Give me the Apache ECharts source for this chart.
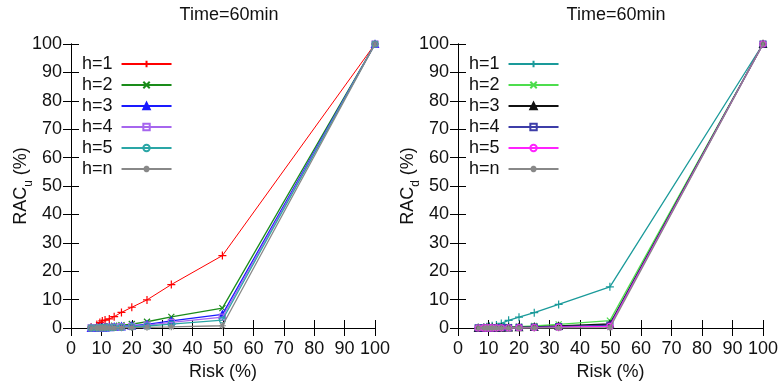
<!DOCTYPE html>
<html>
<head>
<meta charset="utf-8">
<script src="https://cdn.jsdelivr.net/npm/echarts@6/dist/echarts.min.js"></script>
<style>html,body{margin:0;padding:0;background:#fff}#c{width:782px;height:387px}</style>
</head>
<body>
<div id="c"></div>
<script>
// ---- data ----
var riskValues = [6.6, 8.5, 9.5, 10.3, 11.2, 12.6, 14.2, 16.6, 20, 25, 33, 49.8, 100];
var seriesNames = ['h=1', 'h=2', 'h=3', 'h=4', 'h=5', 'h=n'];
var titleLeft = 'Time=60min';
var titleRight = 'Time=60min';
var axisTicks = [0, 10, 20, 30, 40, 50, 60, 70, 80, 90, 100];

var racU_h1 = [0.3, 1.2, 1.9, 2.5, 2.8, 3.2, 4.0, 5.5, 7.3, 9.9, 15.3, 25.5, 100];
var racU_h2 = [0.1, 0.2, 0.3, 0.4, 0.5, 0.6, 0.8, 1.0, 1.4, 2.2, 3.9, 7.0, 100];
var racU_h3 = [0.05, 0.1, 0.15, 0.2, 0.25, 0.3, 0.4, 0.6, 0.8, 1.3, 2.5, 4.8, 100];
var racU_h4 = [0.03, 0.08, 0.1, 0.15, 0.2, 0.25, 0.3, 0.45, 0.6, 1.0, 2.0, 3.8, 100];
var racU_h5 = [0.02, 0.05, 0.08, 0.1, 0.12, 0.15, 0.2, 0.3, 0.4, 0.7, 1.4, 2.8, 100];
var racU_hn = [0, 0.01, 0.02, 0.03, 0.05, 0.06, 0.08, 0.1, 0.15, 0.25, 0.4, 0.8, 100];

var racD_h1 = [0.05, 0.2, 0.4, 0.6, 0.8, 1.1, 1.6, 2.7, 3.8, 5.4, 8.3, 14.5, 100];
var racD_h2 = [0.02, 0.05, 0.08, 0.1, 0.15, 0.2, 0.25, 0.35, 0.5, 0.7, 1.3, 2.6, 100];
var racD_h3 = [0.01, 0.03, 0.05, 0.07, 0.1, 0.12, 0.15, 0.2, 0.3, 0.4, 0.7, 1.4, 100];
var racD_h4 = [0.01, 0.02, 0.03, 0.05, 0.06, 0.08, 0.1, 0.15, 0.2, 0.3, 0.5, 1.0, 100];
var racD_h5 = [0, 0.01, 0.02, 0.03, 0.04, 0.05, 0.06, 0.08, 0.1, 0.15, 0.3, 0.6, 100];
var racD_hn = [0, 0, 0, 0, 0, 0, 0, 0, 0, 0.02, 0.05, 0.1, 100];

// ---- styles ----
var leftColors = ['#ff0000', '#1a8c1a', '#1a1aff', '#a666ee', '#2aa6a6', '#888888'];
var rightColors = ['#1a9a9a', '#4ddd4d', '#111111', '#3d3da8', '#ff22ff', '#888888'];
var P_PLUS = 'path://M0,-1L0,1M-1,0L1,0';
var P_X = 'path://M-1,-1L1,1M-1,1L1,-1';
var P_STAR = 'path://M0,-1L0,1M-1,0L1,0M-0.7,-0.7L0.7,0.7M-0.7,0.7L0.7,-0.7';
var P_SQ = 'path://M-1,-1L1,-1L1,1L-1,1Z';
var symbols = [
  {s: P_PLUS, size: 8, fill: false},
  {s: P_X, size: 6, fill: false},
  {s: 'triangle', size: 7, fill: true},
  {s: P_SQ, size: 6, fill: false},
  {s: 'circle', size: 6, fill: false},
  {s: P_STAR, size: 7, fill: false}
];

var leftData = [racU_h1, racU_h2, racU_h3, racU_h4, racU_h5, racU_hn];
var rightData = [racD_h1, racD_h2, racD_h3, racD_h4, racD_h5, racD_hn];

function pairs(ys) { return riskValues.map(function (x, i) { return [x, ys[i]]; }); }

var FONT = 'Liberation Sans, Arial, sans-serif';
var TXT = '#111';

function makeSeries(prefix, data, colors, axisIdx) {
  return data.map(function (ys, k) {
    var sym = symbols[k];
    return {
      name: prefix + seriesNames[k],
      type: 'line',
      xAxisIndex: axisIdx, yAxisIndex: axisIdx,
      data: pairs(ys),
      symbol: sym.s, symbolSize: sym.size,
      showAllSymbol: true,
      clip: false,
      animation: false,
      lineStyle: {color: colors[k], width: k === 0 && prefix === 'L' ? 1 : 1.3},
      itemStyle: {color: sym.fill ? colors[k] : 'rgba(0,0,0,0)', borderColor: colors[k], borderWidth: 1.2},
      emphasis: {disabled: true},
      z: 2 + k
    };
  });
}

function xAx(grid, pos, labels, name) {
  return {
    type: 'value', gridIndex: grid, position: pos, min: 0, max: 100, interval: 10,
    name: name || '', nameLocation: 'middle', nameGap: 35, nameMoveOverlap: false,
    nameTextStyle: {fontSize: 18, color: TXT, fontFamily: FONT},
    axisLine: {show: true, lineStyle: {color: '#000', width: 1}},
    axisTick: {show: true, inside: true, length: 8, lineStyle: {color: '#000'}},
    axisLabel: {show: labels, fontSize: 18, color: TXT, fontFamily: FONT, margin: 12},
    splitLine: {show: false}
  };
}
function yAx(grid, pos, labels, name) {
  return {
    type: 'value', gridIndex: grid, position: pos, min: 0, max: 100, interval: 10,
    name: name || '', nameLocation: 'middle', nameGap: 41, nameRotate: 90, nameMoveOverlap: false,
    nameTextStyle: {fontSize: 18, color: TXT, fontFamily: FONT,
      rich: {a: {fontSize: 18, color: TXT, fontFamily: FONT},
             b: {fontSize: 12, color: TXT, fontFamily: FONT, verticalAlign: 'bottom', padding: [0, 0, -5, 0]}}},
    axisLine: {show: true, lineStyle: {color: '#000', width: 1}},
    axisTick: {show: true, inside: true, length: 8, lineStyle: {color: '#000'}},
    axisLabel: {show: labels, fontSize: 18, color: TXT, fontFamily: FONT, margin: 9},
    splitLine: {show: false}
  };
}

function legendFor(prefix, left) {
  return {
    orient: 'vertical', left: left, top: 50, align: 'right',
    itemWidth: 50, itemHeight: 8, itemGap: 3,
    data: seriesNames.map(function (n) { return prefix + n; }),
    formatter: function (n) { return n.slice(1); },
    textStyle: {fontSize: 18, color: TXT, fontFamily: FONT, padding: [0, 4, 0, 0]},
    selectedMode: false,
    inactiveColor: '#ccc'
  };
}

var option = {
  backgroundColor: '#fff',
  animation: false,
  title: [
    {text: titleLeft, left: 224, top: 1, textAlign: 'center', textStyle: {fontSize: 18, fontWeight: 'normal', color: TXT, fontFamily: FONT}},
    {text: titleRight, left: 611, top: 1, textAlign: 'center', textStyle: {fontSize: 18, fontWeight: 'normal', color: TXT, fontFamily: FONT}}
  ],
  legend: [legendFor('L', 77), legendFor('R', 464)],
  grid: [
    {left: 71, right: 407, top: 44, bottom: 59},
    {left: 458, right: 19, top: 44, bottom: 59}
  ],
  xAxis: [
    xAx(0, 'bottom', true, 'Risk (%)'), xAx(0, 'top', false),
    xAx(1, 'bottom', true, 'Risk (%)'), xAx(1, 'top', false)
  ],
  yAxis: [
    yAx(0, 'left', true, '{a|RAC}{b|u}{a| (%)}'), yAx(0, 'right', false),
    yAx(1, 'left', true, '{a|RAC}{b|d}{a| (%)}'), yAx(1, 'right', false)
  ],
  series: [].concat(makeSeries('L', leftData, leftColors, 0), makeSeries('R', rightData, rightColors, 2))
};

var chart = echarts.init(document.getElementById('c'), null, {renderer: 'canvas'});
chart.setOption(option);
</script>
</body>
</html>
